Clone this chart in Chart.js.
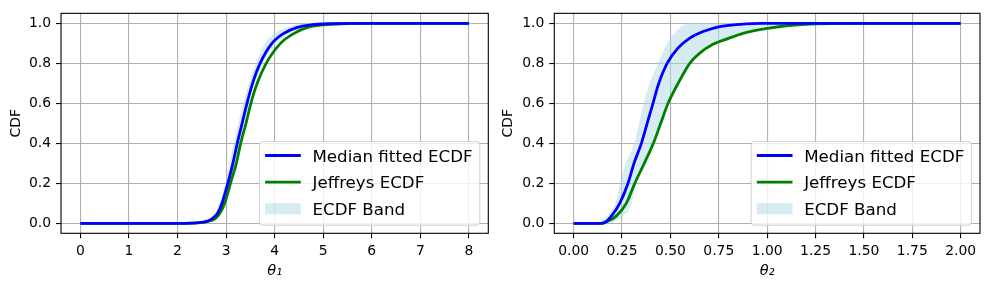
<!DOCTYPE html>
<html>
<head>
<meta charset="utf-8">
<script src="https://cdn.jsdelivr.net/npm/chart.js@4.4.1/dist/chart.umd.min.js"></script>
<style>
html,body{margin:0;padding:0;background:#fff;}
#wrap{position:relative;width:989px;height:290px;}
canvas{position:absolute;top:0;}
</style>
</head>
<body>
<div id="wrap">
<canvas id="c1" width="495" height="290" style="left:0;width:495px;height:290px"></canvas>
<canvas id="c2" width="494" height="290" style="left:495px;width:494px;height:290px"></canvas>
</div>
<script>
// ---------- tick labels ----------
const yTicks = [0, 0.2, 0.4, 0.6, 0.8, 1.0];
const yTickLabels = ['0.0', '0.2', '0.4', '0.6', '0.8', '1.0'];
const x1Ticks = [0, 1, 2, 3, 4, 5, 6, 7, 8];
const x1TickLabels = ['0', '1', '2', '3', '4', '5', '6', '7', '8'];
const x2Ticks = [0, 0.25, 0.5, 0.75, 1.0, 1.25, 1.5, 1.75, 2.0];
const x2TickLabels = ['0.00', '0.25', '0.50', '0.75', '1.00', '1.25', '1.50', '1.75', '2.00'];
const legendLabels = ['Median fitted ECDF', 'Jeffreys ECDF', 'ECDF Band'];

// ---------- theta_1 panel ----------
const medianX1 = [0, 2.0, 2.3, 2.44, 2.6, 2.69, 2.825, 2.916, 3.035, 3.14, 3.23, 3.33, 3.43, 3.545, 3.70, 3.944, 4.19, 4.47, 4.75, 5.1, 5.6, 8];
const medianY1 = [0, 0, 0.001, 0.003, 0.01, 0.02, 0.05, 0.1, 0.2, 0.3, 0.4, 0.5, 0.6, 0.7, 0.8, 0.9, 0.95, 0.98, 0.992, 0.998, 1.0, 1.0];
const jeffX1 = [0, 2.0, 2.3, 2.46, 2.63, 2.755, 2.87, 2.97, 3.09, 3.21, 3.30, 3.41, 3.51, 3.64, 3.825, 4.12, 4.40, 4.68, 5.0, 5.4, 6.0, 8];
const jeffY1 = [0, 0, 0.001, 0.003, 0.01, 0.02, 0.05, 0.1, 0.2, 0.3, 0.4, 0.5, 0.6, 0.7, 0.8, 0.9, 0.95, 0.98, 0.992, 0.998, 1.0, 1.0];
const bandUpX1 = [0, 2.0, 2.25, 2.4, 2.55, 2.64, 2.77, 2.86, 2.986, 3.07, 3.16, 3.25, 3.35, 3.47, 3.615, 3.80, 4.01, 4.26, 4.6, 8];
const bandUpY1 = [0, 0, 0.001, 0.003, 0.01, 0.02, 0.05, 0.1, 0.2, 0.3, 0.4, 0.5, 0.6, 0.7, 0.8, 0.9, 0.95, 0.98, 1.0, 1.0];
const bandLoX1 = [0, 2.1, 2.4, 2.52, 2.7, 2.8, 2.92, 3.0, 3.08, 3.18, 3.27, 3.37, 3.47, 3.59, 3.76, 4.02, 4.3, 4.6, 4.95, 8];
const bandLoY1 = [0, 0, 0.001, 0.003, 0.01, 0.02, 0.05, 0.1, 0.2, 0.3, 0.4, 0.5, 0.6, 0.7, 0.8, 0.9, 0.95, 0.98, 0.995, 1.0];

// ---------- theta_2 panel ----------
const medianX2 = [0, 0.145, 0.17, 0.195, 0.238, 0.281, 0.312, 0.35, 0.38, 0.41, 0.44, 0.483, 0.54, 0.6, 0.669, 0.755, 0.859, 0.97, 2.0];
const medianY2 = [0, 0, 0.01, 0.036, 0.1, 0.2, 0.3, 0.4, 0.5, 0.6, 0.7, 0.8, 0.877, 0.926, 0.959, 0.984, 0.995, 1.0, 1.0];
const jeffX2 = [0, 0.145, 0.175, 0.22, 0.272, 0.316, 0.365, 0.412, 0.45, 0.488, 0.54, 0.6, 0.65, 0.72, 0.8, 0.875, 1.0, 1.1, 1.25, 1.5, 2.0];
const jeffY2 = [0, 0, 0.01, 0.036, 0.1, 0.2, 0.3, 0.4, 0.5, 0.6, 0.7, 0.8, 0.85, 0.895, 0.925, 0.95, 0.975, 0.988, 0.998, 1.0, 1.0];
const bandUpX2 = [0, 0.12, 0.14, 0.165, 0.2, 0.216, 0.241, 0.27, 0.314, 0.338, 0.362, 0.393, 0.436, 0.47, 0.514, 0.557, 0.6, 2.0];
const bandUpY2 = [0, 0, 0.008, 0.03, 0.07, 0.1, 0.2, 0.3, 0.4, 0.5, 0.6, 0.7, 0.8, 0.877, 0.943, 0.984, 1.0, 1.0];
const bandLoX2 = [0, 0.18, 0.215, 0.245, 0.3, 0.32, 0.37, 0.42, 0.455, 0.49, 0.545, 0.6, 0.678, 0.738, 0.824, 0.91, 1.0, 1.15, 2.0];
const bandLoY2 = [0, 0, 0.01, 0.03, 0.1, 0.2, 0.3, 0.4, 0.5, 0.6, 0.7, 0.8, 0.877, 0.91, 0.943, 0.967, 0.985, 1.0, 1.0];

// ---------- styling ----------
const FONT = 'DejaVu Sans';
const BLUE = '#0000ff';
const GREEN = '#008000';
const BAND = 'rgba(173,216,230,0.5)';
const LW = 2.8;
Chart.defaults.font.family = FONT;
Chart.defaults.color = '#000';

function pts(xs, ys) { return xs.map((x, i) => ({x: x, y: ys[i]})); }

const frameAndLegend = {
  id: 'frameAndLegend',
  afterDraw(chart) {
    const ctx = chart.ctx;
    const a = chart.chartArea;
    ctx.save();
    ctx.strokeStyle = '#000';
    ctx.lineWidth = 1.1;
    ctx.strokeRect(a.left, a.top, a.right - a.left, a.bottom - a.top);
    const fs = 16.67;
    ctx.font = fs + 'px "' + FONT + '"';
    const tw = Math.max(...legendLabels.map(t => ctx.measureText(t).width));
    const w = 53 + tw + 7.2;
    const h = 83.6;
    const right = a.right - 8.5;
    const bottom = a.bottom - 8.2;
    const left = right - w;
    const top = bottom - h;
    ctx.beginPath();
    ctx.roundRect(left, top, w, h, 3.5);
    ctx.fillStyle = 'rgba(255,255,255,0.8)';
    ctx.fill();
    ctx.strokeStyle = 'rgba(204,204,204,0.8)';
    ctx.lineWidth = 1.1;
    ctx.stroke();
    const rows = [bottom - 69.6, bottom - 43, bottom - 16.3];
    const hx0 = left + 5.6, hx1 = left + 41.3;
    ctx.lineCap = 'butt';
    ctx.lineWidth = LW;
    [BLUE, GREEN].forEach((c, i) => {
      ctx.strokeStyle = c;
      ctx.beginPath();
      ctx.moveTo(hx0, rows[i]);
      ctx.lineTo(hx1, rows[i]);
      ctx.stroke();
    });
    ctx.fillStyle = BAND;
    ctx.fillRect(hx0, rows[2] - 5.6, hx1 - hx0, 11.1);
    ctx.fillStyle = '#000';
    ctx.textBaseline = 'alphabetic';
    ctx.textAlign = 'left';
    legendLabels.forEach((t, i) => ctx.fillText(t, left + 53, rows[i] + 0.365 * fs));
    ctx.restore();
  }
};

function makeChart(id, o) {
  const common = {pointRadius: 0, cubicInterpolationMode: 'monotone'};
  new Chart(document.getElementById(id), {
    type: 'line',
    data: {
      datasets: [
        Object.assign({data: pts(o.mx, o.my), borderColor: BLUE, borderWidth: LW, fill: false, order: 0}, common),
        Object.assign({data: pts(o.jx, o.jy), borderColor: GREEN, borderWidth: LW, fill: false, order: 1}, common),
        Object.assign({data: pts(o.ux, o.uy), borderColor: 'rgba(0,0,0,0)', borderWidth: 1, backgroundColor: BAND, fill: '+1', order: 2}, common),
        Object.assign({data: pts(o.lx, o.ly), borderColor: 'rgba(0,0,0,0)', borderWidth: 1, fill: false, order: 3}, common)
      ]
    },
    options: {
      responsive: false,
      animation: false,
      devicePixelRatio: 1,
      layout: {padding: {top: 10, right: o.padRight, left: 0, bottom: 0}},
      plugins: {legend: {display: false}, tooltip: {enabled: false}},
      scales: {
        x: {
          type: 'linear',
          min: o.xMin, max: o.xMax,
          afterBuildTicks(s) { s.ticks = o.xTicks.map(v => ({value: v})); },
          afterFit(s) { s.height = 56.7; },
          ticks: {
            autoSkip: false, maxRotation: 0, padding: 4.5,
            font: {size: 13.9}, color: '#000',
            callback: (v) => { const i = o.xTicks.indexOf(v); return i >= 0 ? o.xTickLabels[i] : ''; }
          },
          grid: {color: '#b0b0b0', lineWidth: 1.1, drawTicks: true, tickLength: 5, tickColor: '#000', tickWidth: 1.1},
          border: {display: false},
          title: {display: true, text: o.xTitle, font: {size: 14.5, style: 'italic'}, color: '#000', padding: {top: 0, bottom: 10.5}}
        },
        y: {
          type: 'linear',
          min: -0.05, max: 1.05,
          afterBuildTicks(s) { s.ticks = yTicks.map(v => ({value: v})); },
          afterFit(s) { s.width = o.yW; },
          ticks: {
            autoSkip: false, padding: 5,
            font: {size: 13.9}, color: '#000',
            callback: (v) => { const i = yTicks.indexOf(v); return i >= 0 ? yTickLabels[i] : ''; }
          },
          grid: {color: '#b0b0b0', lineWidth: 1.1, drawTicks: true, tickLength: 5, tickColor: '#000', tickWidth: 1.1},
          border: {display: false},
          title: {display: true, text: 'CDF', font: {size: 13.9}, color: '#000', padding: {top: o.yTitlePad, bottom: 0}}
        }
      }
    },
    plugins: [frameAndLegend]
  });
}

makeChart('c1', {
  mx: medianX1, my: medianY1, jx: jeffX1, jy: jeffY1,
  ux: bandUpX1, uy: bandUpY1, lx: bandLoX1, ly: bandLoY1,
  xMin: -0.4, xMax: 8.4, xTicks: x1Ticks, xTickLabels: x1TickLabels,
  xTitle: 'θ₁', yW: 61, padRight: 6.7, yTitlePad: 8.3
});
makeChart('c2', {
  mx: medianX2, my: medianY2, jx: jeffX2, jy: jeffY2,
  ux: bandUpX2, uy: bandUpY2, lx: bandLoX2, ly: bandLoY2,
  xMin: -0.1, xMax: 2.1, xTicks: x2Ticks, xTickLabels: x2TickLabels,
  xTitle: 'θ₂', yW: 59.3, padRight: 9, yTitlePad: 4.9
});
</script>
</body>
</html>
